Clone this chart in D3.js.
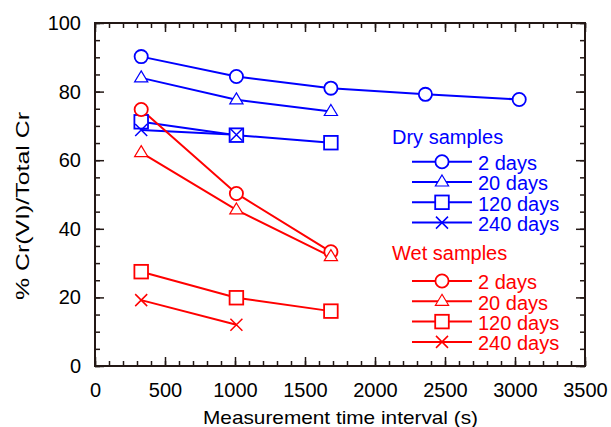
<!DOCTYPE html>
<html>
<head>
<meta charset="utf-8">
<script src="https://cdn.jsdelivr.net/npm/d3@7"></script>
<style>
  body { margin: 0; background: #fff; }
  svg { font-family: Arial, "Liberation Sans", sans-serif; }
</style>
</head>
<body>
<svg id="chart" width="611" height="427"></svg>
<script>
// values
const timeS = [330, 1010, 1685, 2360, 3030]
const dry2 = [90.2, 84.4, 81.0, 79.2, 77.7]
const dry20 = [84.0, 77.6, 74.2]
const dry120 = [71.2, 67.3, 65.1]
const dry240 = [68.8, 67.4]
const wet2 = [74.8, 50.3, 33.3]
const wet20 = [62.2, 45.5, 31.9]
const wet120 = [27.5, 19.9, 16.0]
const wet240 = [19.2, 12.0]

const xTicks = [0, 500, 1000, 1500, 2000, 2500, 3000, 3500]
const yTicks = [0, 20, 40, 60, 80, 100]
const legendLabels = ['2 days', '20 days', '120 days', '240 days']
const groupTitles = ['Dry samples', 'Wet samples']

const BLUE = '#0000ff', RED = '#ff0000', INK = '#231815'

const series = [
  { group: 0, shape: 'circle', values: dry2 },
  { group: 0, shape: 'triangle', values: dry20 },
  { group: 0, shape: 'square', values: dry120 },
  { group: 0, shape: 'cross', values: dry240 },
  { group: 1, shape: 'circle', values: wet2 },
  { group: 1, shape: 'triangle', values: wet20 },
  { group: 1, shape: 'square', values: wet120 },
  { group: 1, shape: 'cross', values: wet240 },
]
const groupColor = [BLUE, RED]

const svg = d3.select('#chart')
const mLeft = 95, mRight = 585, mTop = 23, mBottom = 366

const x = d3.scaleLinear().domain([0, 3500]).range([mLeft, mRight])
const y = d3.scaleLinear().domain([0, 100]).range([mBottom, mTop])

// ticks (all pointing inward)
const minorX = d3.range(0, 3501, 100)
const minorY = d3.range(0, 101, 5)

function tickAxis(axis, tf) {
  const g = svg.append('g').attr('transform', tf).call(axis)
  g.select('.domain').remove()
  g.selectAll('line').attr('stroke', INK).attr('stroke-width', 1.5)
  return g
}

tickAxis(d3.axisBottom(x).tickValues(minorX).tickSize(-5).tickFormat(''), `translate(0,${mBottom})`)
tickAxis(d3.axisTop(x).tickValues(minorX).tickSize(-5).tickFormat(''), `translate(0,${mTop})`)
tickAxis(d3.axisLeft(y).tickValues(minorY).tickSize(-5).tickFormat(''), `translate(${mLeft},0)`)
tickAxis(d3.axisRight(y).tickValues(minorY).tickSize(-5).tickFormat(''), `translate(${mRight},0)`)

tickAxis(d3.axisBottom(x).tickValues(xTicks).tickSize(-9).tickPadding(17).tickFormat(d3.format('d')), `translate(0,${mBottom})`)
tickAxis(d3.axisTop(x).tickValues(xTicks).tickSize(-9).tickFormat(''), `translate(0,${mTop})`)
tickAxis(d3.axisLeft(y).tickValues(yTicks).tickSize(-9).tickPadding(14).tickFormat(d3.format('d')), `translate(${mLeft},0)`)
tickAxis(d3.axisRight(y).tickValues(yTicks).tickSize(-9).tickFormat(''), `translate(${mRight},0)`)

svg.selectAll('.tick text').attr('font-size', 20).attr('fill', '#000').attr('font-family', 'Arial, "Liberation Sans", sans-serif')

svg.append('rect')
  .attr('x', mLeft).attr('y', mTop)
  .attr('width', mRight - mLeft).attr('height', mBottom - mTop)
  .attr('fill', 'none').attr('stroke', INK).attr('stroke-width', 2)

// axis titles (original type is wider than Arial, so stretch to the same length)
svg.append('text')
  .attr('x', 203).attr('y', 424)
  .attr('font-size', 19)
  .attr('textLength', 275).attr('lengthAdjust', 'spacingAndGlyphs')
  .text('Measurement time interval (s)')

svg.append('text')
  .attr('transform', 'translate(28.5,206) rotate(-90)')
  .attr('x', -94)
  .attr('font-size', 19)
  .attr('textLength', 188).attr('lengthAdjust', 'spacingAndGlyphs')
  .text('% Cr(VI)/Total Cr')

// marker drawing
function drawMarker(g, shape, cx, cy, color) {
  if (shape === 'circle') {
    g.append('circle').attr('cx', cx).attr('cy', cy).attr('r', 6.6)
      .attr('fill', '#fff').attr('stroke', color).attr('stroke-width', 1.8)
  } else if (shape === 'triangle') {
    g.append('path')
      .attr('d', `M${cx},${cy - 7}L${cx + 6.6},${cy + 4}L${cx - 6.6},${cy + 4}Z`)
      .attr('fill', '#fff').attr('stroke', color).attr('stroke-width', 1.2)
  } else if (shape === 'square') {
    g.append('rect').attr('x', cx - 6.8).attr('y', cy - 6.8)
      .attr('width', 13.6).attr('height', 13.6)
      .attr('fill', '#fff').attr('stroke', color).attr('stroke-width', 1.8)
  } else {
    g.append('path')
      .attr('d', `M${cx - 6},${cy - 6}L${cx + 6},${cy + 6}M${cx + 6},${cy - 6}L${cx - 6},${cy + 6}`)
      .attr('fill', 'none').attr('stroke', color).attr('stroke-width', 1.5)
  }
}

const line = d3.line().x(d => x(d[0])).y(d => y(d[1]))
const plot = svg.append('g')

series.forEach(s => {
  const pts = s.values.map((v, i) => [timeS[i], v])
  const color = groupColor[s.group]
  plot.append('path').datum(pts)
    .attr('d', line)
    .attr('fill', 'none').attr('stroke', color).attr('stroke-width', 2)
})
series.forEach(s => {
  const color = groupColor[s.group]
  const g = plot.append('g')
  s.values.forEach((v, i) => drawMarker(g, s.shape, x(timeS[i]), y(v), color))
})

// legend
const legend = svg.append('g')
const titleBase = [144, 260]
const firstRow = [161.7, 281]
const rowGap = 20.3
groupTitles.forEach((title, gi) => {
  const color = groupColor[gi]
  legend.append('text')
    .attr('x', 392).attr('y', titleBase[gi])
    .attr('font-size', 20).attr('fill', color).text(title)
  legendLabels.forEach((lab, i) => {
    const ly = firstRow[gi] + i * rowGap
    legend.append('line')
      .attr('x1', 412).attr('x2', 472).attr('y1', ly).attr('y2', ly)
      .attr('stroke', color).attr('stroke-width', 2)
    drawMarker(legend, series[gi * 4 + i].shape, 442, ly, color)
    legend.append('text')
      .attr('x', 478).attr('y', ly + 8.3)
      .attr('font-size', 20).attr('fill', color).text(lab)
  })
})
</script>
</body>
</html>
